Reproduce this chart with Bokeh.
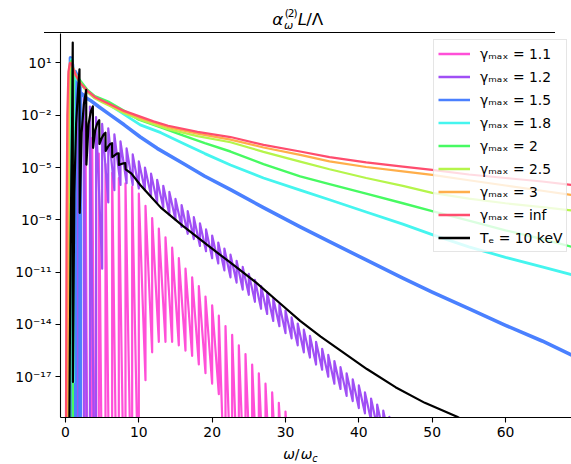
from bokeh.plotting import figure
from bokeh.layouts import column
from bokeh.models import (Range1d, FixedTicker, CustomJSTickFormatter, Legend,
                          LegendItem, Div)
from bokeh.embed import file_html
from bokeh.resources import INLINE

FLOOR = -25.0  # log10 level far below the axis floor: emission has fallen to zero

# ---------------- data: log10(alpha_w L / Lambda) against omega/omega_c ----------------
x_ticks = [0, 10, 20, 30, 40, 50, 60]
y_tick_exps = [1, -2, -5, -8, -11, -14, -17]

# gamma_max = inf
inf_x = [0.05, 0.15, 0.25, 0.4, 0.6, 0.8, 1.0, 1.4, 2.0, 3.0, 4.0, 5.0, 6.0, 8.0, 10.0,
         12.0, 14.0, 18.0, 22.5, 27.0, 32.0, 36.0, 41.0, 46.0, 50.0, 55.0, 60.0, 65.0, 69.5]
inf_lg = [-22, -8, -2, 0.5, 1.0, 0.95, 0.75, 0.3, -0.15, -0.6, -0.95, -1.15, -1.35, -1.75, -2.05,
          -2.35, -2.6, -2.95, -3.25, -3.7, -4.08, -4.4, -4.7, -4.95, -5.13, -5.4, -5.6, -5.8, -6.02]

# gamma_max = 3
g3_x = [0.3, 0.36, 0.45, 0.6, 0.8, 1.0, 1.4, 2.0, 3.0, 4.0, 5.0, 6.0, 8.0, 10.0, 14.0,
        18.0, 22.5, 27.0, 32.0, 36.0, 41.0, 46.0, 50.0, 55.0, 60.0, 65.0, 69.5]
g3_lg = [-22, -3, 0.3, 0.95, 1.0, 0.75, 0.3, -0.17, -0.63, -0.98, -1.18, -1.38, -1.8, -2.12, -2.68,
         -3.05, -3.4, -3.85, -4.27, -4.65, -4.97, -5.22, -5.42, -5.73, -6.03, -6.33, -6.6]

# gamma_max = 2.5
g25_x = [0.38, 0.44, 0.55, 0.7, 0.85, 1.0, 1.4, 2.0, 3.0, 4.0, 5.0, 6.0, 8.0, 10.0, 14.0,
         18.0, 22.5, 27.0, 32.0, 36.0, 41.0, 46.0, 50.0, 55.0, 60.0, 65.0, 69.5]
g25_lg = [-22, -3, 0.5, 1.0, 1.0, 0.78, 0.3, -0.12, -0.68, -1.03, -1.25, -1.45, -1.88, -2.22, -2.8,
          -3.2, -3.55, -4.1, -4.66, -5.1, -5.6, -6.05, -6.45, -6.78, -7.05, -7.27, -7.48]

# gamma_max = 2
g2_x = [0.48, 0.52, 0.6, 0.75, 0.9, 0.99, 1.0, 1.01, 1.1, 1.3, 1.6, 2.0, 3.0, 4.0, 6.0, 8.0,
        10.0, 13.0, 16.0, 19.0, 22.5, 27.0, 32.0, 36.0, 41.0, 46.0, 50.0, 55.0, 60.0, 65.0, 69.5]
g2_lg = [-22, -2, 0.7, 1.1, 1.0, 0.8, -22, -4, 0.5, 0.4, 0.2, 0.0, -0.55, -0.9, -1.25, -1.75,
         -2.25, -2.7, -3.15, -3.6, -4.08, -4.8, -5.51, -5.95, -6.5, -7.05, -7.5, -8.05, -8.6, -9.1, -9.6]

# gamma_max = 1.8
g18_x = [0.54, 0.58, 0.65, 0.8, 0.95, 0.99, 1.0, 1.1, 1.11, 1.2, 1.5, 2.0, 3.0, 4.0, 6.0, 8.0,
         10.2, 13.0, 16.0, 19.0, 22.5, 27.0, 32.0, 36.0, 41.0, 46.0, 50.0, 55.0, 60.0, 65.0, 69.5]
g18_lg = [-22, -2, 0.8, 1.2, 1.0, 0.8, -17.3, -17.3, -1, 0.2, 0.1, -0.15, -0.65, -1.0, -1.4, -1.95,
          -2.55, -3.0, -3.6, -4.2, -4.85, -5.6, -6.3, -6.85, -7.55, -8.25, -8.85, -9.55, -10.15,
          -10.7, -11.2]

# gamma_max = 1.5
g15_x = [0.65, 0.68, 0.8, 0.95, 0.99, 1.0, 1.33, 1.34, 1.45, 1.7, 1.98, 2.0, 2.03, 2.3, 2.8, 3.4,
         4.5, 6.0, 8.0, 10.2, 12.5, 16.0, 19.0, 22.5, 27.0, 32.0, 36.0, 41.0, 46.0, 50.0, 55.0,
         60.0, 65.0, 69.5]
g15_lg = [-22, 1.3, 1.2, 0.9, 0.6, -22, -22, 0.5, 0.4, 0.1, -0.3, -22, -0.7, -0.8, -1.0, -1.15,
          -1.5, -1.95, -2.55, -3.25, -3.9, -4.75, -5.5, -6.27, -7.3, -8.4, -9.25, -10.3, -11.35,
          -12.15, -13.1, -14.05, -14.95, -15.85]

# gamma_max = 1.2: harmonic n occupies [n/1.2, n]
g12_gap_peaks = [1.0, 0.0, -0.8, -1.5]           # isolated harmonics n = 1..4
g12_peaks = [-2.1, -2.5, -2.75, -3.1, -3.5, -3.9, -4.25, -4.65, -5.0, -5.35, -5.7, -6.05,
             -6.4, -6.8, -7.15, -7.5, -7.85, -8.2, -8.55, -8.9, -9.3, -9.65, -10.0, -10.35,
             -10.7, -11.1, -11.45, -11.8, -12.15, -12.5, -12.85, -13.2, -13.6, -13.95, -14.3,
             -14.65, -15.0, -15.4, -15.75, -16.1, -16.45, -16.8, -17.15, -17.5, -17.9, -18.25,
             -18.6, -18.95, -19.3]                 # n = 5..53, just after the jump at n/1.2
g12_troughs = [FLOOR, -10.8, -7.0, -6.3, -6.0, -5.9, -6.0, -6.2, -6.3, -6.6, -7.0, -7.3,
               -7.7, -8.0, -8.4, -8.8, -9.1, -9.5, -9.8, -10.2, -10.5, -10.9, -11.3, -11.6,
               -12.0, -12.3, -12.7, -13.1, -13.4, -13.8, -14.1, -14.5, -14.8, -15.2, -15.6,
               -15.9, -16.3, -16.6, -17.0, -17.4, -17.7, -18.1, -18.4, -18.8, -19.1, -19.5,
               -19.9, -20.2, -20.6]                # n = 5..53, just before the jump at n/1.2

# gamma_max = 1.1: harmonic n occupies [n/1.1, n]
g11_gap_peaks = [0.3, -1.3, -2.4, -3.3, -4.2, -4.8, -5.3, -5.6, -5.9, -6.1]   # n = 1..10
g11_peaks = [-6.5, -7.2, -7.9, -8.5, -9.0, -9.6, -10.2, -10.8, -11.3, -11.8, -12.4, -12.9,
             -13.5, -14.1, -14.6, -15.2, -15.7, -16.3, -16.8, -17.4, -17.9, -18.5, -19.0,
             -19.6, -20.1]                          # n = 11..35
g11_troughs = [FLOOR, -17.2, -15.6, -15.0, -15.0, -15.0, -15.2, -15.5, -15.8, -16.3, -16.8,
               -17.4, -18.0, FLOOR, FLOOR, FLOOR, FLOOR, FLOOR, FLOOR, FLOOR, FLOOR, FLOOR,
               FLOOR, FLOOR, FLOOR]                 # n = 11..35

# thermal, Te = 10 keV
te_x = [0.5, 0.6, 0.7, 0.8, 0.9, 0.99, 1.02, 1.2, 1.45, 1.7, 1.91, 1.94, 2.2, 2.5, 2.82, 2.85,
        3.15, 3.45, 3.73, 3.76, 4.05, 4.35, 4.6, 4.63, 4.95, 5.2, 5.45, 5.48, 5.8, 6.1, 6.35,
        6.38, 6.7, 7.0, 7.25, 7.28, 7.6, 7.9, 8.15, 8.2, 9.0, 10.2, 11.5, 13.0, 16.0, 19.5,
        22.5, 26.0, 29.0, 32.0, 34.8, 38.0, 41.1, 45.0, 49.0, 53.4, 56.0]
te_lg = [-22, -15, -9.5, -5.5, -2.5, 2.17, -17.3, -6.5, -2.5, -0.6, 0.64, -7.6, -3.0, -1.4,
         -0.54, -4.83, -2.5, -1.8, -1.49, -3.87, -2.85, -2.45, -2.28, -3.65, -3.3, -3.1, -3.0,
         -4.05, -3.8, -3.65, -3.6, -4.4, -4.3, -4.2, -4.18, -4.85, -4.8, -4.76, -4.75, -5.1,
         -5.35, -6.0, -6.6, -7.3, -8.35, -9.5, -10.46, -11.6, -12.7, -13.8, -14.7, -15.65,
         -16.56, -17.6, -18.5, -19.3, -19.9]

labels = ["γₘₐₓ = 1.1", "γₘₐₓ = 1.2", "γₘₐₓ = 1.5", "γₘₐₓ = 1.8", "γₘₐₓ = 2",
          "γₘₐₓ = 2.5", "γₘₐₓ = 3", "γₘₐₓ = inf", "Tₑ = 10 keV"]
colors = ["#ff4fd8", "#a04ff5", "#4a80ff", "#45f5ef", "#47fa62", "#b5f54b", "#ffae4a",
          "#ff4d6e", "#000000"]


def harmonic_series(gmax, gap_peaks, peaks, troughs):
    xs, lg = [], []
    for n, pk in enumerate(gap_peaks, start=1):
        xs += [n / gmax, n / gmax, n]
        lg += [FLOOR, pk, FLOOR]
    n0 = len(gap_peaks) + 1
    for i, (pk, tr) in enumerate(zip(peaks, troughs)):
        xe = (n0 + i) / gmax
        xs += [xe, xe]
        lg += [tr, pk]
    xs.append((n0 + len(peaks)) / gmax)
    lg.append(FLOOR)
    return xs, lg


def lin(lg):
    return [10.0 ** v for v in lg]


g11_x, g11_lg = harmonic_series(1.1, g11_gap_peaks, g11_peaks, g11_troughs)
g12_x, g12_lg = harmonic_series(1.2, g12_gap_peaks, g12_peaks, g12_troughs)

series = [(g11_x, g11_lg, 2.2), (g12_x, g12_lg, 2.2), (g15_x, g15_lg, 3.6),
          (g18_x, g18_lg, 2.8), (g2_x, g2_lg, 2.4), (g25_x, g25_lg, 2.2),
          (g3_x, g3_lg, 2.2), (inf_x, inf_lg, 2.2), (te_x, te_lg, 2.2)]

W = 571
TITLE_H, MAIN_H, XLAB_H = 33, 409, 22
DX = -16  # horizontal correction of the HTML strips' content

p = figure(width=W, height=MAIN_H, title=None, output_backend="svg", toolbar_location=None,
           x_range=Range1d(-0.68, 69.0), y_range=Range1d(10 ** -19.34, 10 ** 2.69),
           y_axis_type="log", min_border_left=60, min_border_right=0,
           min_border_top=0, min_border_bottom=25)
p.outline_line_color = None
p.xgrid.visible = False
p.ygrid.visible = False

for (xs, lg, w), c in zip(series, colors):
    p.line(xs, lin(lg), line_color=c, line_width=w, line_join="round")

# legend glyphs with uniform width (their data lie outside the visible x range)
dummies = [p.line([-10, -9], [1, 1], line_color=c, line_width=2.6) for c in colors]
legend = Legend(items=[LegendItem(label=l, renderers=[r]) for l, r in zip(labels, dummies)],
                location=(373, 165), label_text_font="DejaVu Sans",
                label_text_font_size="13.9px", label_text_color="black",
                glyph_width=32, glyph_height=19, label_height=19, spacing=4, padding=4,
                label_standoff=10, margin=0, border_line_color="#cccccc",
                border_line_width=1, background_fill_color="white",
                background_fill_alpha=0.8)
p.add_layout(legend)

# axes
for ax in (p.xaxis[0], p.yaxis[0]):
    ax.axis_line_width = 1.1
    ax.axis_line_color = "black"
    ax.major_tick_line_width = 1.1
    ax.major_tick_line_color = "black"
    ax.major_tick_in = 0
    ax.major_tick_out = 5
    ax.minor_tick_line_color = None
    ax.major_label_text_font = "DejaVu Sans"
    ax.major_label_text_font_size = "13.9px"
    ax.major_label_text_color = "black"
    ax.major_label_standoff = 4

p.xaxis.ticker = FixedTicker(ticks=x_ticks, minor_ticks=[])
p.yaxis.ticker = FixedTicker(ticks=[10.0 ** e for e in y_tick_exps], minor_ticks=[])
p.yaxis.formatter = CustomJSTickFormatter(code="""
const sup = {'-': '⁻', '0': '⁰', '1': '¹', '2': '²', '3': '³', '4': '⁴',
             '5': '⁵', '6': '⁶', '7': '⁷', '8': '⁸', '9': '⁹'};
const e = String(Math.round(Math.log10(tick)));
let s = '10';
for (const c of e) { s += sup[c]; }
return s;
""")


# ---- title strip (with the top spine) and x-label strip, as HTML text ----
def span(x, baseline, size, s, italic=False, tracking=0):
    top = baseline - 0.846 * size        # DejaVu Sans baseline inside a line-height:1 box
    style = "italic" if italic else "normal"
    return (f'<span style="position:absolute;left:{x + DX}px;top:{top:.2f}px;'
            f'font-size:{size}px;line-height:1;font-style:{style};'
            f'letter-spacing:{tracking}px;">{s}</span>')


def strip_html(h, parts, spine=False):
    inner = "".join(span(*pt) for pt in parts)
    if spine:
        inner += (f'<div style="position:absolute;left:{60 + DX}px;top:32px;width:511px;'
                  'height:0;border-top:1.1px solid #000;"></div>')
    return (f'<div style="position:relative;width:{W}px;height:{h}px;overflow:visible;'
            f'font-family:\'DejaVu Sans\';color:#000;white-space:nowrap;">{inner}</div>')


title_parts = [(288.3, 25, 16.7, "α", True), (300.0, 29.6, 11.0, "ω", True),
               (300.7, 16.8, 10.5, "(2)", False, -1), (313.8, 25, 16.7, "L", True),
               (322.2, 25, 16.7, "/Λ")]
xlab_parts = [(299.3, 18, 13.9, "ω", True), (310.7, 18, 13.9, "/"),
              (316.7, 18, 13.9, "ω", True), (328.3, 20.5, 9.7, "c", True)]

tdiv = Div(text=strip_html(TITLE_H, title_parts, spine=True), width=W, height=TITLE_H, margin=0)
xdiv = Div(text=strip_html(XLAB_H, xlab_parts), width=W, height=XLAB_H, margin=0)

layout = column(tdiv, p, xdiv, spacing=0)
open("out.html", "w").write(file_html(layout, INLINE))
